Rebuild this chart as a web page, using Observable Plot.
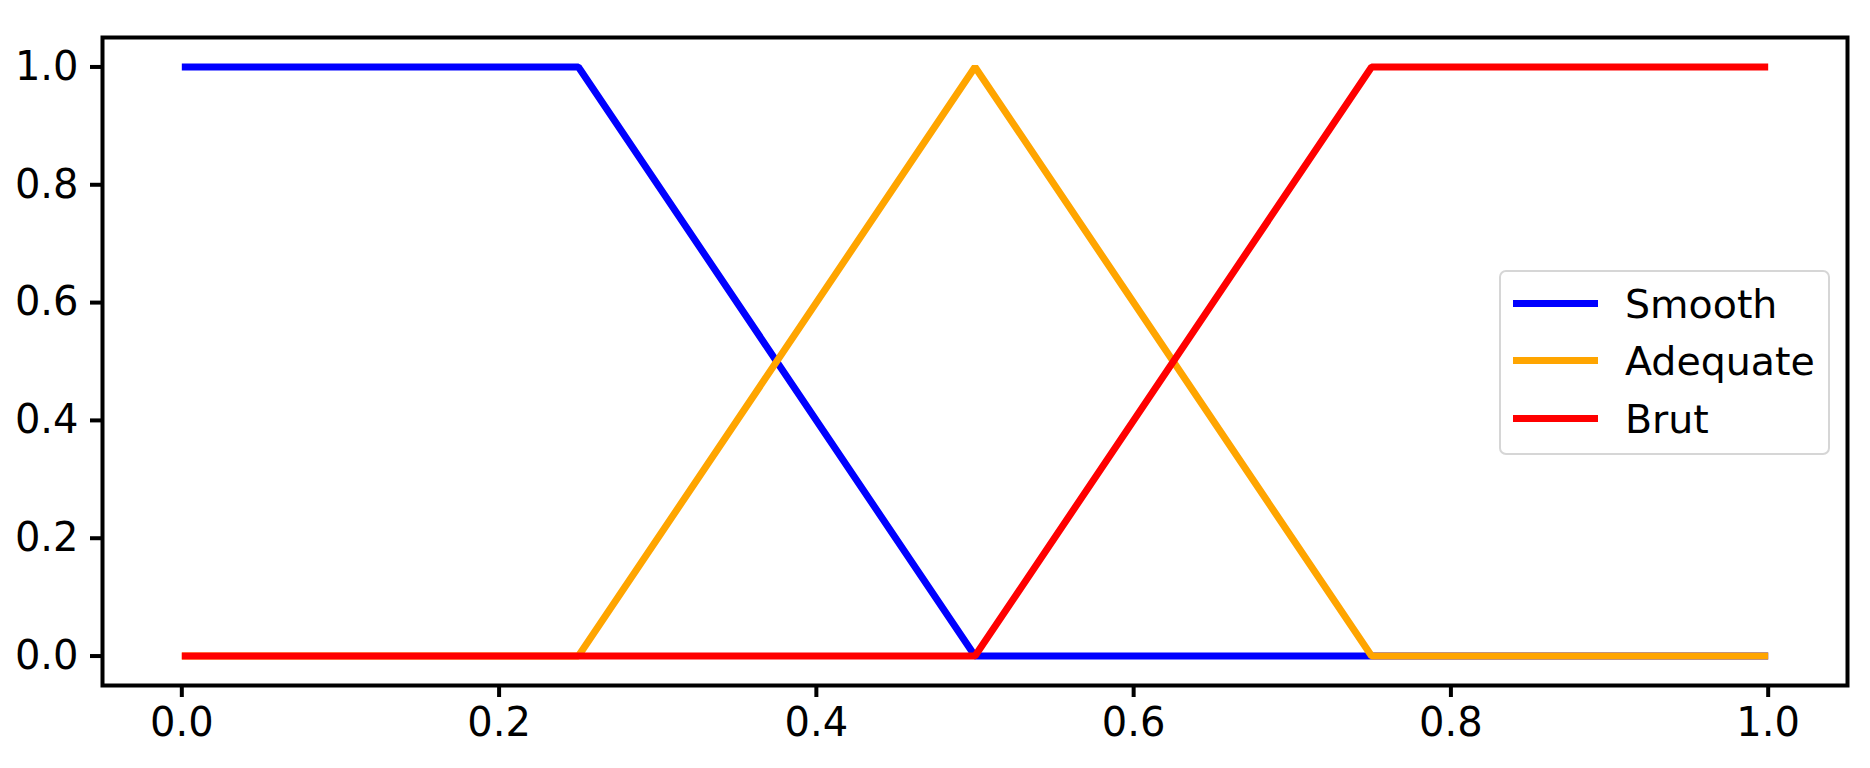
<!DOCTYPE html>
<html>
<head>
<meta charset="utf-8">
<script src="https://cdn.jsdelivr.net/npm/d3@7"></script>
<script src="https://cdn.jsdelivr.net/npm/@observablehq/plot@0.6"></script>
<style>
  html, body { margin: 0; padding: 0; background: #fff; }
  #wrap { position: relative; width: 1870px; height: 768px; font-family: "DejaVu Sans", sans-serif; }
  #legend { position: absolute; left: 1499px; top: 270px; width: 327px; height: 181px;
            border: 2px solid #d6d6d6; border-radius: 7px; background: rgba(255,255,255,0.8); }
  .sw { position: absolute; left: 12px; width: 85px; height: 7px; }
  .lb { position: absolute; left: 124px; font-size: 39.5px; line-height: 40px; color: #000; white-space: nowrap; }
</style>
</head>
<body>
<div id="wrap"></div>
<script>
const xs = [0, 0.25, 0.5, 0.75, 1];
const smooth = [1, 1, 0, 0, 0];
const adequate = [0, 0, 1, 0, 0];
const brut = [0, 0, 0, 1, 1];
const seriesNames = ["Smooth", "Adequate", "Brut"];
const seriesColors = ["blue", "orange", "red"];
const tickValues = [0, 0.2, 0.4, 0.6, 0.8, 1.0];

const seriesValues = [smooth, adequate, brut];
const data = seriesNames.flatMap((name, i) =>
  xs.map((x, j) => ({series: name, x, y: seriesValues[i][j]})));

const chart = Plot.plot({
  width: 1870,
  height: 768,
  marginLeft: 102,
  marginRight: 23,
  marginTop: 37,
  marginBottom: 83,
  style: {fontFamily: "DejaVu Sans, sans-serif", background: "white", color: "black"},
  x: {domain: [-0.05, 1.05]},
  y: {domain: [-0.05, 1.05]},
  color: {domain: seriesNames, range: seriesColors},
  marks: [
    Plot.line(data, {x: "x", y: "y", z: "series", stroke: "series", strokeWidth: 7, strokeLinejoin: "miter", strokeLinecap: "butt"}),
    Plot.frame({stroke: "black", strokeWidth: 4}),
    Plot.axisX({ticks: tickValues, tickFormat: d3.format(".1f"), tickSize: 12, tickPadding: 10, fontSize: 40, strokeWidth: 4, label: null}),
    Plot.axisY({ticks: tickValues, tickFormat: d3.format(".1f"), tickSize: 12, tickPadding: 12, fontSize: 40, strokeWidth: 4, label: null})
  ]
});
const wrap = document.getElementById("wrap");
wrap.appendChild(chart);

const legend = document.createElement("div");
legend.id = "legend";
const rowY = [31, 88, 146];
seriesNames.forEach((name, i) => {
  const sw = document.createElement("div");
  sw.className = "sw";
  sw.style.top = (rowY[i] - 3.5) + "px";
  sw.style.background = seriesColors[i];
  legend.appendChild(sw);
  const lb = document.createElement("div");
  lb.className = "lb";
  lb.style.top = (rowY[i] - 19) + "px";
  lb.textContent = name;
  legend.appendChild(lb);
});
wrap.appendChild(legend);
</script>
</body>
</html>
